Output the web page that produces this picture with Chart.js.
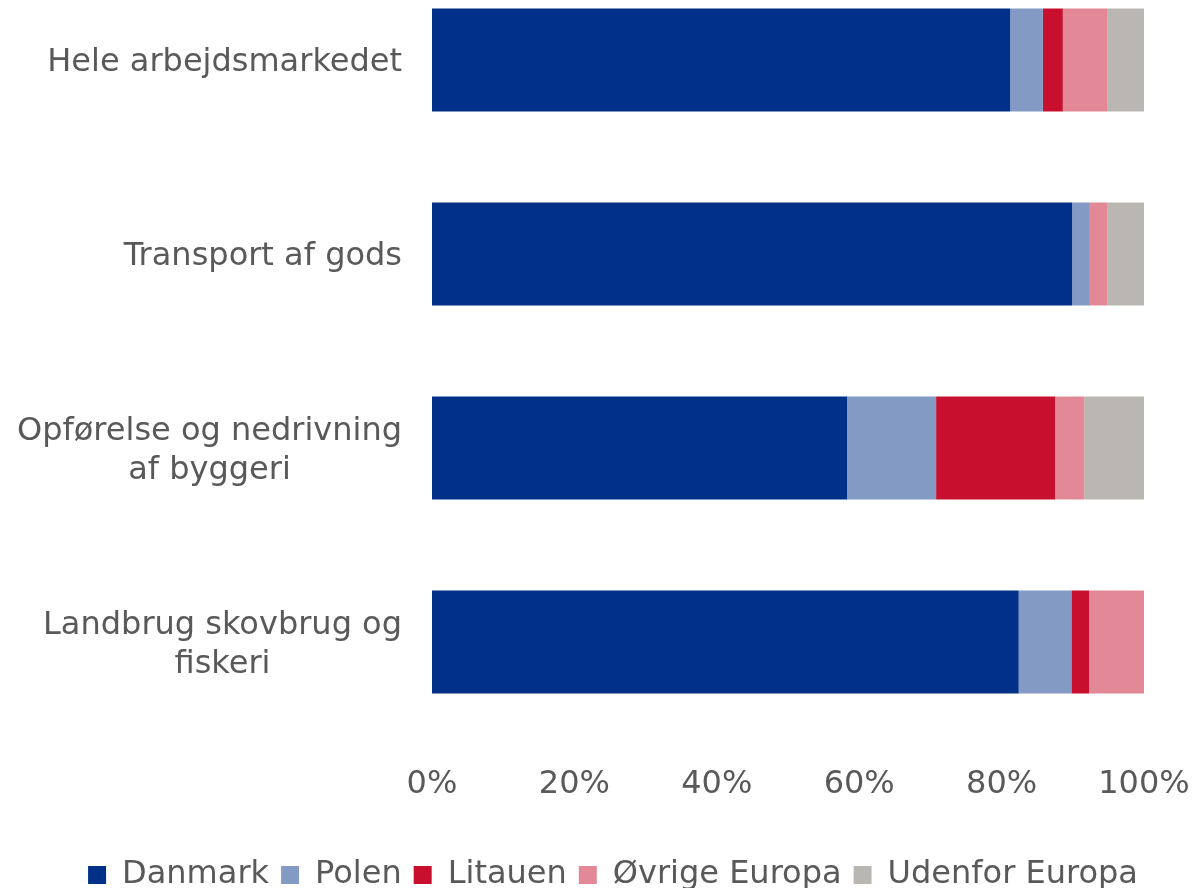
<!DOCTYPE html>
<html>
<head>
<meta charset="utf-8">
<script src="https://cdn.jsdelivr.net/npm/chart.js@4.4.1/dist/chart.umd.min.js"></script>
<style>
html, body { margin: 0; padding: 0; background: #fff; overflow: hidden; width: 1195px; height: 888px; }
#wrap { position: absolute; left: 0; top: -37px; width: 1195px; height: 938px; }
</style>
</head>
<body>
<div id="wrap"><canvas id="myChart"></canvas></div>
<script>
// categories (each entry = lines of the label)
var categories = [
	["Hele arbejdsmarkedet"],
	["Transport af gods"],
	["Opførelse og nedrivning", "af byggeri"],
	["Landbrug skovbrug og", "fiskeri"]
];
var series_names = ["Danmark", "Polen", "Litauen", "Øvrige Europa", "Udenfor Europa"];
var danmark = [81.2, 89.9, 58.3, 82.4];
var polen = [4.6, 2.5, 12.5, 7.4];
var litauen = [2.8, 0, 16.7, 2.5];
var ovrige = [6.3, 2.5, 4.1, 7.7];
var udenfor = [5.1, 5.1, 8.4, 0];
var x_ticks = [0, 20, 40, 60, 80, 100];

var txt = "#595959";
var font_family = '"DejaVu Sans", Verdana, sans-serif';

// y labels: lines centred on each other, block right aligned (like Excel)
var yLabels = {
	id: "yLabels",
	afterDraw: function(chart) {
		var ctx = chart.ctx;
		var scale = chart.scales.y;
		ctx.save();
		ctx.font = "32px " + font_family;
		ctx.fillStyle = txt;
		ctx.textAlign = "center";
		ctx.textBaseline = "middle";
		categories.forEach(function(lines, i) {
			var y = scale.getPixelForValue(i) + 3;
			var widest = 0;
			lines.forEach(function(l) { widest = Math.max(widest, ctx.measureText(l).width); });
			var cx = scale.right - 30 - widest / 2;
			lines.forEach(function(l, j) {
				ctx.fillText(l, cx, y + (j - (lines.length - 1) / 2) * 39);
			});
		});
		ctx.restore();
	}
};

var ctx = document.getElementById("myChart");
var myChart = new Chart(ctx, {
	type: "bar",
	plugins: [yLabels],
	data: {
		labels: categories.map(function(c) { return c.join(" "); }),
		datasets: [
			{ label: series_names[0], data: danmark, backgroundColor: "#003087" },
			{ label: series_names[1], data: polen, backgroundColor: "#829AC4" },
			{ label: series_names[2], data: litauen, backgroundColor: "#C8102E" },
			{ label: series_names[3], data: ovrige, backgroundColor: "#E38896" },
			{ label: series_names[4], data: udenfor, backgroundColor: "#BAB7B2" }
		]
	},
	options: {
		indexAxis: "y",
		responsive: true,
		maintainAspectRatio: false,
		animation: false,
		layout: { padding: { left: 31, right: 0, top: 0, bottom: 0 } },
		datasets: { bar: { categoryPercentage: 1, barPercentage: 0.53, borderWidth: 0 } },
		scales: {
			x: {
				stacked: true,
				min: 0,
				max: 100,
				grid: { display: false },
				border: { display: false },
				afterBuildTicks: function(scale) {
					scale.ticks = x_ticks.map(function(v) { return { value: v }; });
				},
				afterFit: function(scale) {
					scale.height = 108;
					scale.paddingLeft = 0;
					scale.paddingRight = 51;
				},
				ticks: {
					padding: 18,
					color: txt,
					font: { family: font_family, size: 32 },
					maxRotation: 0,
					callback: function(v) { return v + "%"; }
				}
			},
			y: {
				stacked: true,
				grid: { display: false },
				border: { display: false },
				ticks: { display: false },
				afterFit: function(scale) { scale.width = 401; }
			}
		},
		plugins: {
			tooltip: { enabled: false },
			legend: {
				position: "bottom",
				labels: {
					boxWidth: 18,
					boxHeight: 18,
					padding: 12,
					color: txt,
					font: { family: font_family, size: 32 }
				}
			}
		}
	}
});
</script>
</body>
</html>
